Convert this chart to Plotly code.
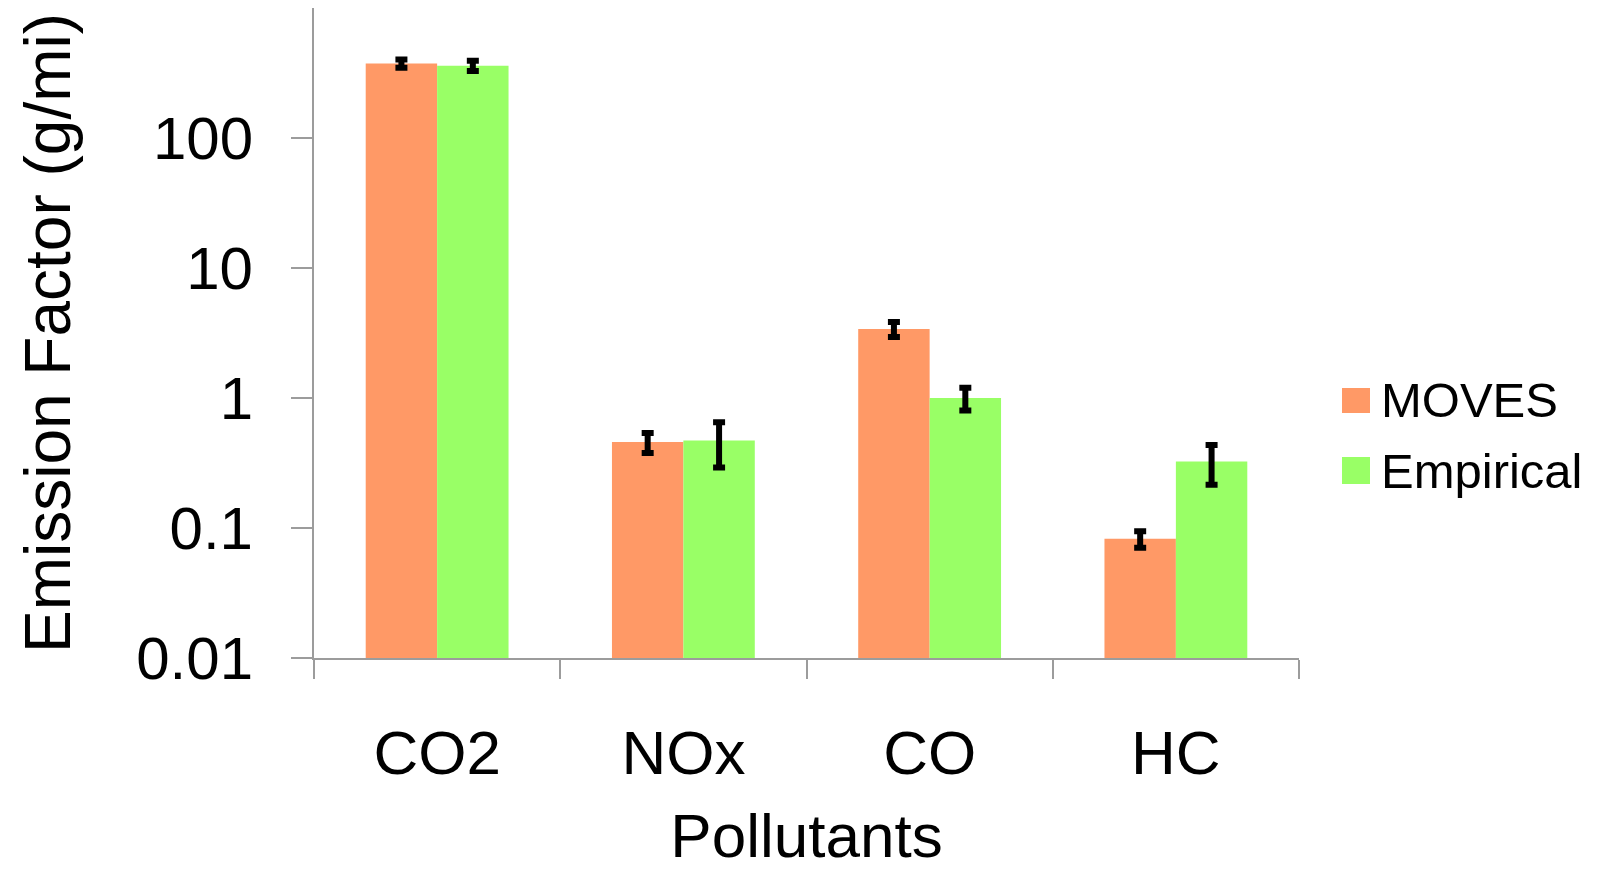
import plotly.graph_objects as go

categories = ["CO2", "NOx", "CO", "HC"]
moves_values = [374, 0.458, 3.40, 0.0826]
moves_errors = [27, 0.08, 0.45, 0.012]
empirical_values = [360, 0.472, 1.0, 0.325]
empirical_errors = [32, 0.18, 0.2, 0.11]
series_names = ["MOVES", "Empirical"]
tick_values = [0.01, 0.1, 1, 10, 100]
tick_labels = ["0.01", "0.1", "1", "10", "100"]

ORANGE = "#FF9966"
GREEN = "#99FF66"
AXIS = "#9C9C9C"
FONT = "Liberation Sans, Arial, sans-serif"

W, H = 1600, 870
L, R, T, B = 314, 301, 8, 212
PW, PH = W - L - R, H - T - B


def px(x):
    return (x - L) / PW


def py(y):
    return (H - B - y) / PH


fig = go.Figure()
fig.add_trace(go.Bar(
    x=categories, y=moves_values, name=series_names[0],
    marker=dict(color=ORANGE, line=dict(width=0)),
    error_y=dict(type="data", array=moves_errors, color="black", thickness=6, width=6),
    showlegend=False,
))
fig.add_trace(go.Bar(
    x=categories, y=empirical_values, name=series_names[1],
    marker=dict(color=GREEN, line=dict(width=0)),
    error_y=dict(type="data", array=empirical_errors, color="black", thickness=6, width=6),
    showlegend=False,
))

# manual legend
legend_items = [(series_names[0], ORANGE, 388, 413, 400), (series_names[1], GREEN, 457, 484, 471)]
shapes = []
annotations = []
for name, col, y0, y1, yc in legend_items:
    shapes.append(dict(type="rect", xref="paper", yref="paper",
                       x0=px(1342), x1=px(1370), y0=py(y1), y1=py(y0),
                       fillcolor=col, line=dict(width=0)))
    annotations.append(dict(text=name, xref="paper", yref="paper", x=px(1379), y=py(yc),
                            xanchor="left", yanchor="middle", showarrow=False,
                            font=dict(family=FONT, size=49, color="black")))

fig.update_layout(
    width=W, height=H,
    margin=dict(l=L, r=R, t=T, b=B, pad=0, autoexpand=False),
    paper_bgcolor="white", plot_bgcolor="white",
    barmode="group", bargap=0.42, bargroupgap=0,
    shapes=shapes, annotations=annotations,
    showlegend=False,
    font=dict(family=FONT, color="black"),
)
fig.update_xaxes(
    automargin=False,
    showline=True, linecolor=AXIS, linewidth=2,
    ticks="outside", tickson="boundaries", ticklen=19, tickcolor=AXIS, tickwidth=2,
    tickfont=dict(family=FONT, size=62, color="black"),
    ticklabelstandoff=40,
    showgrid=False, zeroline=False,
    title=dict(text="Pollutants", font=dict(family=FONT, size=62, color="black"), standoff=34),
)
fig.update_yaxes(
    automargin=False,
    type="log", range=[-2, 3],
    showline=True, linecolor=AXIS, linewidth=2,
    ticks="outside", ticklen=21, tickcolor=AXIS, tickwidth=2,
    tickvals=tick_values, ticktext=tick_labels,
    tickfont=dict(family=FONT, size=60, color="black"),
    ticklabelstandoff=26,
    showgrid=False, zeroline=False,
    title=dict(text="Emission Factor (g/mi)", font=dict(family=FONT, size=64, color="black"), standoff=45),
)

fig.write_html("out.html")
